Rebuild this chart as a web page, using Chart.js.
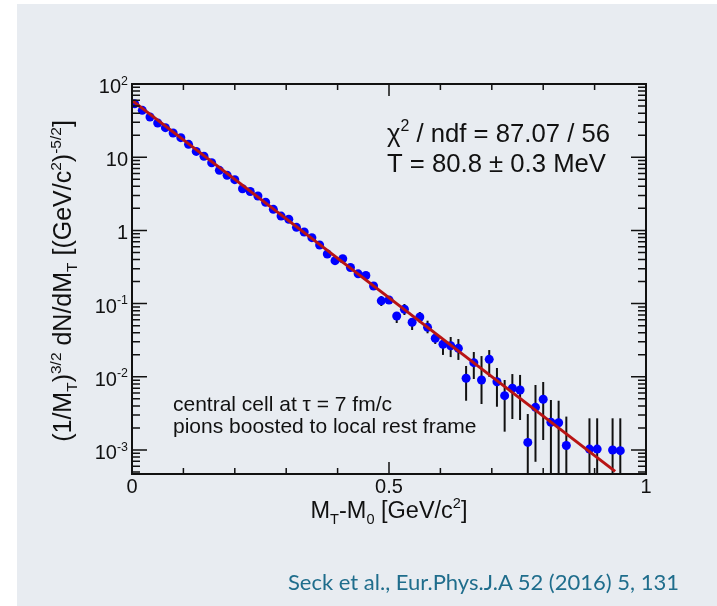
<!DOCTYPE html>
<html>
<head>
<meta charset="utf-8">
<script src="https://cdn.jsdelivr.net/npm/chart.js@4.4.0/dist/chart.umd.min.js"></script>
<style>
  html, body { margin: 0; padding: 0; background: #fff; }
  #wrap { position: relative; width: 717px; height: 606px; overflow: hidden; }
  #panel { position: absolute; left: 17px; top: 4px; right: 0; bottom: 0; background: #e8ecf1; }
  #chart { position: absolute; left: 0; top: 0; }
  #cite { position: absolute; left: 288px; top: 569px; font-family: Lato, sans-serif; font-size: 22px;
          color: #1f6d8c; white-space: nowrap; line-height: 1.2; }
</style>
</head>
<body>
<div id="wrap">
  <div id="panel"></div>
  <canvas id="chart" width="717" height="606"></canvas>
  <div id="cite">Seck et al., Eur.Phys.J.A 52 (2016) 5, 131</div>
</div>
<script>
// M_T - M_0 bin centres [GeV/c^2] (empty bins left out)
const xVals = [
  0.005, 0.020, 0.035, 0.050, 0.065, 0.080, 0.095, 0.110, 0.125, 0.140,
  0.155, 0.170, 0.185, 0.200, 0.215, 0.230, 0.245, 0.260, 0.275, 0.290,
  0.305, 0.320, 0.335, 0.350, 0.365, 0.380, 0.395, 0.410, 0.425, 0.440,
  0.455, 0.470, 0.485, 0.500, 0.515, 0.530, 0.545, 0.560, 0.575, 0.590,
  0.605, 0.620, 0.635, 0.650, 0.665, 0.680, 0.695, 0.710, 0.725, 0.740,
  0.755, 0.770, 0.785, 0.800, 0.815, 0.830, 0.845, 0.890, 0.905, 0.935, 0.950
];
const yVals = [
  53.8, 43.7, 35.4, 29.3, 25.3, 21.4, 18.5, 15.0, 12.0, 10.3,
  8.41, 6.62, 5.66, 4.93, 3.71, 3.40, 2.95, 2.42, 1.94, 1.57,
  1.42, 1.10, 0.951, 0.795, 0.632, 0.476, 0.386, 0.410, 0.311, 0.255,
  0.242, 0.174, 0.109, 0.112, 0.0677, 0.0836, 0.0556, 0.0656, 0.0474, 0.0336,
  0.0278, 0.0266, 0.0245, 0.00955, 0.0156, 0.00904, 0.0173, 0.00857, 0.00552, 0.00697,
  0.00661, 0.00127, 0.00383, 0.00493, 0.00239, 0.00236, 0.00115, 0.00103, 0.00103, 0.00100, 0.00098
];
// top and bottom end of each error bar (null = hidden under the marker)
const errUp = [
  null, null, null, null, null, null, null, null, null, null,
  null, null, null, null, null, null, null, null, null, null,
  null, null, null, null, null, null, null, null, null, null,
  null, null, 0.127, 0.122, 0.0744, 0.0988, 0.0635, 0.0768, 0.0584, 0.0396,
  0.0318, 0.0350, 0.0328, 0.01406, 0.0218, 0.0192, 0.0232, 0.0132, 0.00904, 0.0109,
  0.0106, 0.0031, 0.00773, 0.00849, 0.00482, 0.00471, 0.00286, 0.00271, 0.00271, 0.00271, 0.00271
];
const errDown = [
  null, null, null, null, null, null, null, null, null, null,
  null, null, null, null, null, null, null, null, null, null,
  null, null, null, null, null, null, null, null, null, null,
  null, null, 0.0927, 0.100, 0.0543, 0.0698, 0.0436, 0.0543, 0.0393, 0.0281,
  0.0199, 0.0186, 0.0170, 0.00471, 0.00933, 0.00425, 0.0100, 0.0039, 0.00178, 0.00265,
  0.00257, 0.0001, 0.00069, 0.00137, 0.0001, 0.0001, 0.0001, 0.0001, 0.0001, 0.0001, 0.0001
];
// exponential fit, straight on the log axis
const fitX = [0, 0.94];
const fitY = [59.8, 5.1e-4];

const xTicks = [0, 0.5, 1];
const xTickLabels = ['0', '0.5', '1'];
const xMinorTicks = [0.1, 0.2, 0.3, 0.4, 0.6, 0.7, 0.8, 0.9];
const yDecades = [1e-3, 1e-2, 1e-1, 1, 10, 100];
const yTickLabels = [['10', '-3'], ['10', '-2'], ['10', '-1'], ['1', ''], ['10', ''], ['10', '2']];
const yMin = 4.7e-4, yMax = 100;

const FONT = '"Liberation Sans", Arial, sans-serif';

function drawRich(ctx, parts, x, y, size, align) {
  // parts: [text, 0 normal / 1 superscript / -1 subscript]
  let w = 0;
  const items = parts.map(([t, m]) => {
    const s = m ? size * 0.62 : size;
    ctx.font = s + 'px ' + FONT;
    const tw = ctx.measureText(t).width;
    w += tw;
    return [t, m, s, tw];
  });
  let cx = align === 'right' ? x - w : align === 'center' ? x - w / 2 : x;
  ctx.textAlign = 'left';
  ctx.textBaseline = 'alphabetic';
  items.forEach(([t, m, s, tw]) => {
    ctx.font = s + 'px ' + FONT;
    const dy = m === 1 ? -size * 0.42 : m === -1 ? size * 0.24 : 0;
    ctx.fillText(t, cx, y + dy);
    cx += tw;
  });
}

const rootStyle = {
  id: 'rootStyle',
  beforeDatasetsDraw(chart) {
    const ctx = chart.ctx, a = chart.chartArea;
    const xs = chart.scales.x, ys = chart.scales.y;
    ctx.save();
    ctx.beginPath();
    ctx.rect(a.left, a.top, a.right - a.left, a.bottom - a.top);
    ctx.clip();
    ctx.strokeStyle = '#111';
    ctx.lineWidth = 2;
    xVals.forEach((x, i) => {
      if (errUp[i] == null) return;
      const px = xs.getPixelForValue(x);
      ctx.beginPath();
      ctx.moveTo(px, ys.getPixelForValue(errUp[i]));
      ctx.lineTo(px, ys.getPixelForValue(errDown[i]));
      ctx.stroke();
    });
    ctx.restore();
  },
  afterDraw(chart) {
    const ctx = chart.ctx, a = chart.chartArea;
    const xs = chart.scales.x, ys = chart.scales.y;
    ctx.save();
    ctx.strokeStyle = '#111';
    ctx.fillStyle = '#111';

    // ticks, inside the frame on all four sides
    ctx.lineWidth = 1.5;
    ctx.beginPath();
    const xt = (v, len) => {
      const px = xs.getPixelForValue(v);
      ctx.moveTo(px, a.bottom); ctx.lineTo(px, a.bottom - len);
      ctx.moveTo(px, a.top); ctx.lineTo(px, a.top + len);
    };
    xTicks.forEach(v => xt(v, 12));
    xMinorTicks.forEach(v => xt(v, 6));
    const yt = (v, len) => {
      const py = ys.getPixelForValue(v);
      ctx.moveTo(a.left, py); ctx.lineTo(a.left + len, py);
      ctx.moveTo(a.right, py); ctx.lineTo(a.right - len, py);
    };
    yDecades.forEach(v => yt(v, 15));
    [1e-4].concat(yDecades).forEach(d => {
      for (let k = 2; k <= 9; k++) {
        const v = d * k;
        if (v > yMin && v < yMax) yt(v, 8);
      }
    });
    ctx.stroke();

    // frame
    ctx.lineWidth = 2;
    ctx.strokeRect(a.left, a.top, a.right - a.left, a.bottom - a.top);

    // tick labels
    xTicks.forEach((v, i) => {
      drawRich(ctx, [[xTickLabels[i], 0]], xs.getPixelForValue(v), a.bottom + 19, 20, 'center');
    });
    yDecades.forEach((v, i) => {
      const [base, exp] = yTickLabels[i];
      drawRich(ctx, [[base, 0], [exp, 1]], a.left - 4, ys.getPixelForValue(v) + 9, 20, 'right');
    });

    // axis titles
    drawRich(ctx, [['M', 0], ['T', -1], ['-M', 0], ['0', -1], [' [GeV/c', 0], ['2', 1], [']', 0]],
      (a.left + a.right) / 2, a.bottom + 44, 23.5, 'center');
    ctx.save();
    ctx.translate(a.left - 61, (a.top + a.bottom) / 2 + 2);
    ctx.rotate(-Math.PI / 2);
    drawRich(ctx, [['(1/M', 0], ['T', -1], [')', 0], ['3/2', 1], [' dN/dM', 0], ['T', -1],
      [' [(GeV/c', 0], ['2', 1], [')', 0], ['-5/2', 1], [']', 0]], 0, 0, 25, 'center');
    ctx.restore();

    // fit result
    drawRich(ctx, [['\u03c7', 0], ['2', 1], [' / ndf = 87.07 / 56', 0]], a.left + 255, a.top + 58, 25.7, 'left');
    drawRich(ctx, [['T = 80.8 \u00b1 0.3 MeV', 0]], a.left + 255, a.top + 88, 25.7, 'left');

    // note
    drawRich(ctx, [['central cell at \u03c4 = 7 fm/c', 0]], a.left + 41, a.top + 327, 21, 'left');
    drawRich(ctx, [['pions boosted to local rest frame', 0]], a.left + 41, a.top + 349, 21, 'left');
    ctx.restore();
  }
};

const ctx = document.getElementById('chart').getContext('2d');
new Chart(ctx, {
  type: 'scatter',
  data: {
    datasets: [
      {
        label: 'fit',
        data: fitX.map((x, i) => ({ x: x, y: fitY[i] })),
        showLine: true,
        borderColor: '#b81414',
        borderWidth: 3,
        pointRadius: 0,
        fill: false
      },
      {
        label: 'central cell',
        data: xVals.map((x, i) => ({ x: x, y: yVals[i] })),
        pointRadius: 4.5,
        pointHoverRadius: 4.5,
        backgroundColor: '#0000ff',
        borderWidth: 0
      }
    ]
  },
  options: {
    responsive: false,
    animation: false,
    devicePixelRatio: 1,
    layout: { padding: { left: 132, top: 84, right: 71, bottom: 132 } },
    plugins: { legend: { display: false }, tooltip: { enabled: false } },
    scales: {
      x: { type: 'linear', min: 0, max: 1, display: false },
      y: { type: 'logarithmic', min: yMin, max: yMax, display: false }
    }
  },
  plugins: [rootStyle]
});
</script>
</body>
</html>
